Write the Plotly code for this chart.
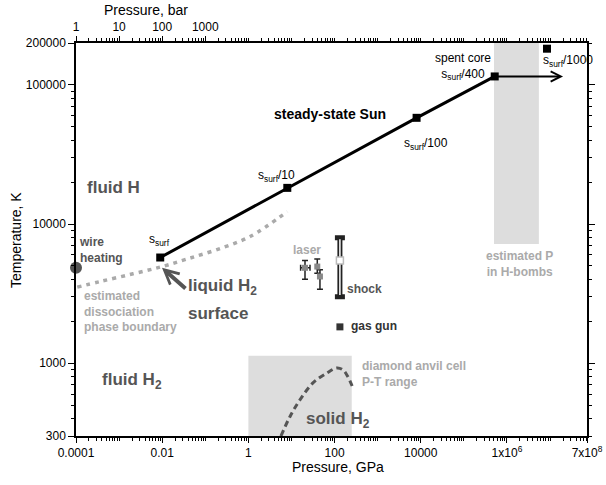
import math
import plotly.graph_objects as go

# ---------------- data ----------------
sun_P = [0.009, 8, 8000, 5.2e5]
sun_T = [5750, 18200, 58000, 115000]
arrow_end_P = 2.0e7
core1000_P = [8.5e6]
core1000_T = [182000]

diss_P = [1.07e-4, 3.6e-4, 2.1e-3, 0.01, 0.037, 0.18, 1.1, 8.0]
diss_T = [3520, 3860, 4390, 4950, 5600, 6530, 8140, 12300]

melt_P = [5.7, 9.2, 15.7, 31.5, 67, 113, 157, 205, 267]
melt_T = [300, 413, 545, 722, 852, 925, 895, 797, 664]

laser_P = [20.6, 39.7, 45.8]
laser_T = [4850, 4950, 4200]
laser_T_hi = [5470, 5600, 4690]
laser_T_lo = [4020, 4440, 3405]
laser_P_lo = [16.3, None, None]
laser_P_hi = [26.9, None, None]

shock_P = [133]
shock_T = [5470]
shock_T_hi = [7970]
shock_T_lo = [3000]

gasgun_P = [133]
gasgun_T = [1825]

wire_P = [1e-4]
wire_T = [4850]

liquid_tip = (0.0099, 4850)
liquid_tail = (0.0376, 3370)

dac_P = [1, 250]
dac_T = [300, 1130]
bomb_P = [5e5, 5.5e6]
bomb_T = [7200, 200000]

x_range = [1e-4, 7.2e7]
y_range = [300, 200000]
x_major = [1e-4, 1e-2, 1, 1e2, 1e4, 1e6, 7.2e7]
x_major_text = ["0.0001", "0.01", "1", "100", "10000", "1x10<sup>6</sup>", "7x10<sup>8</sup>"]
bar_major = [1e-4, 1e-3, 1e-2, 1e-1]
bar_major_text = ["1", "10", "100", "1000"]
y_major = [300, 1000, 10000, 100000, 200000]
y_major_text = ["300", "1000", "10000", "100000", "200000"]

# ---------------- helpers ----------------
FONT = "Liberation Sans, Arial, sans-serif"
L, R, T, B = 76, 19, 43, 49
W, H = 606, 485
PW, PH = W - L - R, H - T - B


def paper(xp, yp):
    return (xp - L) / PW, (H - B - yp) / PH


def minor_vals(lo_exp, hi_exp, vmax):
    out = []
    for e in range(lo_exp, hi_exp + 1):
        for m in range(1, 10):
            v = m * 10 ** e
            if v <= vmax * 1.0001:
                out.append(v)
    return out


fig = go.Figure()

# shaded regions
fig.add_shape(type="rect", x0=dac_P[0], x1=dac_P[1], y0=dac_T[0], y1=dac_T[1],
              xref="x", yref="y", fillcolor="#dddddd", line_width=0, layer="below")
fig.add_shape(type="rect", x0=bomb_P[0], x1=bomb_P[1], y0=bomb_T[0], y1=bomb_T[1],
              xref="x", yref="y", fillcolor="#dddddd", line_width=0, layer="below")

# dissociation boundary
fig.add_trace(go.Scatter(x=diss_P, y=diss_T, mode="lines",
                         line=dict(color="#aaaaaa", width=3.5, dash="4px,5px", shape="spline"),
                         showlegend=False, hoverinfo="skip"))
# melting line
fig.add_trace(go.Scatter(x=melt_P, y=melt_T, mode="lines",
                         line=dict(color="#555555", width=3, dash="6px,4px", shape="spline"),
                         showlegend=False, hoverinfo="skip", cliponaxis=True))
# steady-state sun
fig.add_trace(go.Scatter(x=sun_P, y=sun_T, mode="lines+markers",
                         line=dict(color="black", width=3),
                         marker=dict(symbol="square", size=8, color="black"),
                         showlegend=False, hoverinfo="skip"))
fig.add_trace(go.Scatter(x=core1000_P, y=core1000_T, mode="markers",
                         marker=dict(symbol="square", size=8, color="black"),
                         showlegend=False, hoverinfo="skip"))
# wire heating
fig.add_trace(go.Scatter(x=wire_P, y=wire_T, mode="markers",
                         marker=dict(symbol="circle", size=12, color="#555555"),
                         showlegend=False, hoverinfo="skip", cliponaxis=False))
# laser
fig.add_trace(go.Scatter(
    x=laser_P, y=laser_T, mode="markers",
    marker=dict(symbol="square", size=6, color="#888888"),
    error_y=dict(type="data", symmetric=False,
                 array=[h - t for h, t in zip(laser_T_hi, laser_T)],
                 arrayminus=[t - l for l, t in zip(laser_T_lo, laser_T)],
                 color="#222222", thickness=1.5, width=3),
    error_x=dict(type="data", symmetric=False,
                 array=[(h - p) if h else 0 for h, p in zip(laser_P_hi, laser_P)],
                 arrayminus=[(p - l) if l else 0 for l, p in zip(laser_P_lo, laser_P)],
                 color="#222222", thickness=1.5, width=3),
    showlegend=False, hoverinfo="skip"))
# shock (double bar)
fig.add_trace(go.Scatter(
    x=shock_P, y=shock_T, mode="markers",
    marker=dict(symbol="square", size=1, color="rgba(0,0,0,0)"),
    error_y=dict(type="data", symmetric=False,
                 array=[h - t for h, t in zip(shock_T_hi, shock_T)],
                 arrayminus=[t - l for l, t in zip(shock_T_lo, shock_T)],
                 color="#222222", thickness=5, width=5),
    showlegend=False, hoverinfo="skip"))
fig.add_trace(go.Scatter(
    x=shock_P, y=shock_T, mode="markers",
    marker=dict(symbol="square", size=7, color="white", line=dict(color="#bbbbbb", width=1.5)),
    error_y=dict(type="data", symmetric=False,
                 array=[h * 0.975 - t for h, t in zip(shock_T_hi, shock_T)],
                 arrayminus=[t - l * 1.03 for l, t in zip(shock_T_lo, shock_T)],
                 color="white", thickness=1.5, width=0),
    showlegend=False, hoverinfo="skip"))
# gas gun
fig.add_trace(go.Scatter(x=gasgun_P, y=gasgun_T, mode="markers",
                         marker=dict(symbol="square", size=7, color="#333333"),
                         showlegend=False, hoverinfo="skip"))
# dummy traces for secondary axes
fig.add_trace(go.Scatter(x=[1], y=[1000], xaxis="x2", yaxis="y2", mode="markers",
                         marker=dict(opacity=0), showlegend=False, hoverinfo="skip"))

ann = []
# arrows
ann.append(dict(x=math.log10(arrow_end_P), y=math.log10(sun_T[-1]),
                ax=math.log10(sun_P[-1]), ay=math.log10(sun_T[-1]),
                xref="x", yref="y", axref="x", ayref="y", text="", showarrow=True,
                arrowhead=5, arrowwidth=2, arrowsize=1, arrowcolor="black"))
ann.append(dict(x=math.log10(liquid_tip[0]), y=math.log10(liquid_tip[1]),
                ax=math.log10(liquid_tail[0]), ay=math.log10(liquid_tail[1]),
                xref="x", yref="y", axref="x", ayref="y", text="", showarrow=True,
                arrowhead=5, arrowwidth=4, arrowsize=0.7, arrowcolor="#555555"))


def label(text, xp, yp, size=12, color="black", bold=False, xanchor="left", yanchor="middle", align="left"):
    px_, py_ = paper(xp, yp)
    if bold:
        text = "<b>" + text + "</b>"
    ann.append(dict(x=px_, y=py_, xref="paper", yref="paper", text=text, showarrow=False,
                    xanchor=xanchor, yanchor=yanchor, align=align,
                    font=dict(family=FONT, size=size, color=color)))


DG = "#555555"
LG = "#aaaaaa"
label("fluid H", 113, 187, 17, DG, True, "center")
label("wire<br>heating", 77, 250, 12, DG, True)
label("s<sub>surf</sub>", 147, 240, 12)
label("liquid H<sub>2</sub>", 186, 287, 17, DG, True)
label("surface", 186, 313, 17, DG, True)
label("estimated<br>dissociation<br>phase boundary", 82, 311, 12, LG, True)
label("fluid H<sub>2</sub>", 100, 381, 17, DG, True)
label("solid H<sub>2</sub>", 304, 420, 17, DG, True)
label("diamond anvil cell<br>P-T range", 360, 374, 12, LG, True)
label("estimated P<br>in H-bombs", 519, 264, 12, LG, True, "center", align="center")
label("spent core<br>s<sub>surf</sub>/400", 463, 66, 12, "black", False, "center", align="center")
label("s<sub>surf</sub>/1000", 541, 61, 12)
label("steady-state Sun", 272, 114, 14, "black", True)
label("s<sub>surf</sub>/100", 402, 144, 12)
label("s<sub>surf</sub>/10", 256, 176, 12)
label("laser", 307, 250, 12, LG, True, "center")
label("shock", 345, 289, 12, DG, True)
label("gas gun", 349, 326, 12, "#333333", True)
label("Pressure, bar", 146, 10, 14, "black", False, "center")
label("Pressure, GPa", 338, 467, 14, "black", False, "center")
label("Temperature, K", 16, 240, 14, "black", False, "center")
ann[-1]["textangle"] = -90

tickfont = dict(family=FONT, size=12, color="black")
xlog = [math.log10(x_range[0]), math.log10(x_range[1])]
ylog = [math.log10(y_range[0]), math.log10(y_range[1])]

x_decades = [10 ** e for e in range(-4, 8)]
x_major_all = x_decades + [x_major[-1]]
x_major_all_text = []
for v in x_major_all:
    if v in x_major:
        x_major_all_text.append(x_major_text[x_major.index(v)])
    else:
        x_major_all_text.append("")

bar_all_text = []
for v in x_decades:
    bar_all_text.append(bar_major_text[bar_major.index(v)] if v in bar_major else "")

fig.update_layout(
    width=W, height=H,
    margin=dict(l=L, r=R, t=T, b=B, autoexpand=False),
    plot_bgcolor="white", paper_bgcolor="white",
    font=dict(family=FONT, size=12, color="black"),
    showlegend=False,
    annotations=ann,
    xaxis=dict(type="log", range=xlog, tickmode="array", tickvals=x_major_all,
               ticktext=x_major_all_text, ticks="outside", ticklen=5, tickwidth=1,
               tickcolor="black", showline=True, linecolor="black", linewidth=1.5,
               showgrid=False, zeroline=False, tickfont=tickfont, automargin=False,
               minor=dict(tickmode="array", tickvals=minor_vals(-4, 7, x_range[1]),
                          ticks="outside", ticklen=3, tickcolor="black", showgrid=False)),
    xaxis2=dict(type="log", range=xlog, overlaying="x", side="top", tickmode="array",
                tickvals=x_decades, ticktext=bar_all_text, ticks="outside", ticklen=5,
                tickcolor="black", showline=True, linecolor="black", linewidth=1.5,
                showgrid=False, zeroline=False, tickfont=tickfont, automargin=False,
                minor=dict(tickmode="array", tickvals=minor_vals(-4, 7, x_range[1]),
                           ticks="outside", ticklen=3, tickcolor="black", showgrid=False)),
    yaxis=dict(type="log", range=ylog, tickmode="array", tickvals=y_major,
               ticktext=y_major_text, ticks="outside", ticklen=6, tickcolor="black",
               showline=True, linecolor="black", linewidth=1.5, showgrid=False,
               zeroline=False, tickfont=tickfont, automargin=False,
               minor=dict(tickmode="array", tickvals=minor_vals(2, 5, y_range[1]),
                          ticks="outside", ticklen=3, tickcolor="black", showgrid=False)),
    yaxis2=dict(type="log", range=ylog, overlaying="y", side="right", tickmode="array",
                tickvals=[1000, 10000, 100000], showticklabels=False, ticks="outside",
                ticklen=6, tickcolor="black", showline=True, linecolor="black",
                linewidth=1.5, showgrid=False, zeroline=False, automargin=False,
                minor=dict(tickmode="array", tickvals=minor_vals(2, 5, y_range[1]),
                           ticks="outside", ticklen=3, tickcolor="black", showgrid=False)),
)

fig.write_html("out.html")
